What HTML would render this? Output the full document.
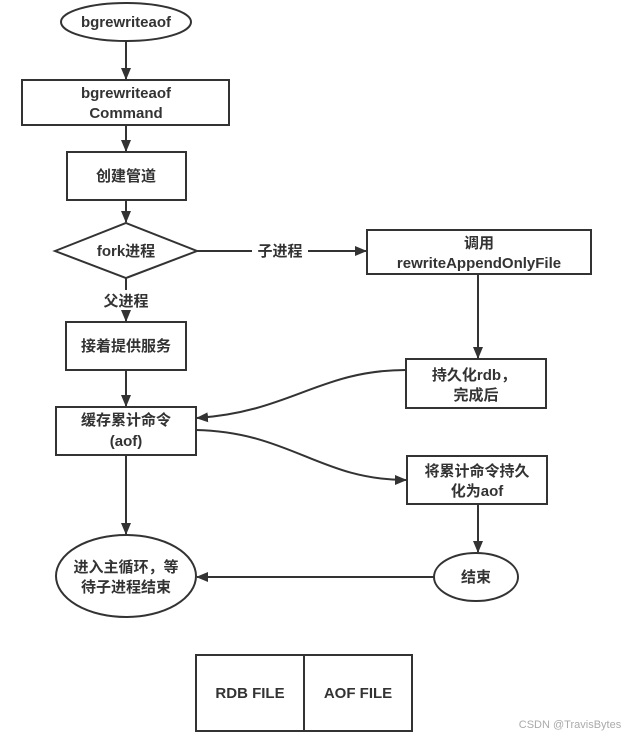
<!DOCTYPE html>
<html><head><meta charset="utf-8"><style>
html,body{margin:0;padding:0;background:#fff;}
svg{display:block;}
text{font-family:"Liberation Sans","Noto Sans CJK SC",sans-serif;font-weight:bold;font-size:15px;fill:#333;text-anchor:middle;}
</style></head><body>
<svg width="624" height="736" viewBox="0 0 624 736" xmlns="http://www.w3.org/2000/svg">
<defs><marker id="a" markerWidth="12" markerHeight="10" refX="11" refY="5" orient="auto" markerUnits="userSpaceOnUse"><path d="M0,0 L12,5 L0,10 z" fill="#333"/></marker></defs>
<g stroke="#333" stroke-width="2" fill="#fff">
<ellipse cx="126" cy="22" rx="65" ry="19"/>
<rect x="22" y="80" width="207" height="45"/>
<rect x="67" y="152" width="119" height="48"/>
<polygon points="55,251 126,223 197,251 126,278"/>
<rect x="367" y="230" width="224" height="44"/>
<rect x="66" y="322" width="120" height="48"/>
<rect x="406" y="359" width="140" height="49"/>
<rect x="56" y="407" width="140" height="48"/>
<rect x="407" y="456" width="140" height="48"/>
<ellipse cx="126" cy="576" rx="70" ry="41"/>
<ellipse cx="476" cy="577" rx="42" ry="24"/>
<rect x="196" y="655" width="216" height="76"/>
<line x1="304" y1="655" x2="304" y2="731"/>
</g>
<g stroke="#333" stroke-width="2" fill="none">
<line x1="126" y1="41" x2="126" y2="79" marker-end="url(#a)"/>
<line x1="126" y1="125" x2="126" y2="151" marker-end="url(#a)"/>
<line x1="126" y1="200" x2="126" y2="222" marker-end="url(#a)"/>
<line x1="197" y1="251" x2="252" y2="251"/>
<line x1="308" y1="251" x2="366" y2="251" marker-end="url(#a)"/>
<line x1="126" y1="278" x2="126" y2="290"/>
<line x1="126" y1="314" x2="126" y2="321" marker-end="url(#a)"/>
<line x1="478" y1="274" x2="478" y2="358" marker-end="url(#a)"/>
<line x1="126" y1="370" x2="126" y2="406" marker-end="url(#a)"/>
<path d="M406,370 C320,370 290,412 197,418" marker-end="url(#a)"/>
<path d="M196,430 C290,432 320,480 406,480" marker-end="url(#a)"/>
<line x1="126" y1="455" x2="126" y2="534" marker-end="url(#a)"/>
<line x1="478" y1="504" x2="478" y2="552" marker-end="url(#a)"/>
<line x1="434" y1="577" x2="197" y2="577" marker-end="url(#a)"/>
</g>
<text x="126" y="27">bgrewriteaof</text>
<text x="126" y="98">bgrewriteaof</text>
<text x="126" y="118">Command</text>
<text x="126" y="181">创建管道</text>
<text x="126" y="256">fork进程</text>
<text x="280" y="256">子进程</text>
<text x="126" y="306">父进程</text>
<text x="479" y="248">调用</text>
<text x="479" y="268">rewriteAppendOnlyFile</text>
<text x="126" y="351">接着提供服务</text>
<text x="474" y="380">持久化rdb，</text>
<text x="476" y="400">完成后</text>
<text x="126" y="425">缓存累计命令</text>
<text x="126" y="446">(aof)</text>
<text x="477" y="476">将累计命令持久</text>
<text x="477" y="496">化为aof</text>
<text x="126" y="572">进入主循环，等</text>
<text x="126" y="592">待子进程结束</text>
<text x="476" y="582">结束</text>
<text x="250" y="698">RDB FILE</text>
<text x="358" y="698">AOF FILE</text>
<text x="570" y="728" style="font-weight:normal;font-size:11px;fill:#aaa">CSDN @TravisBytes</text>
</svg>
</body></html>
